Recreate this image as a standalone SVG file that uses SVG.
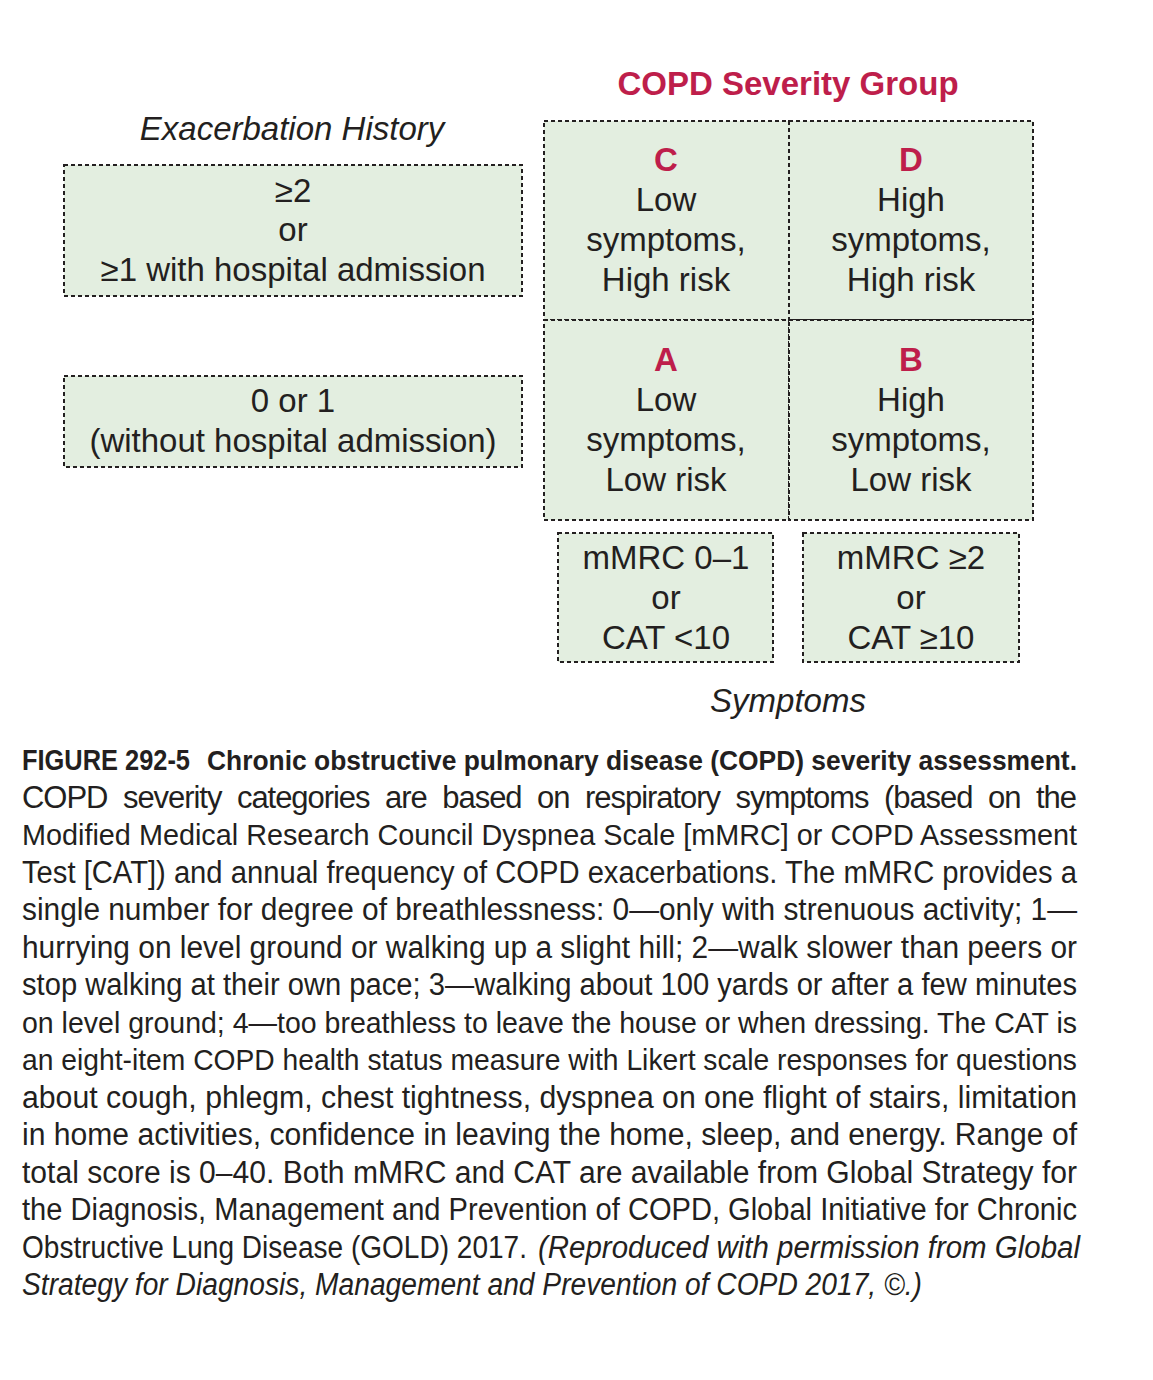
<svg xmlns="http://www.w3.org/2000/svg" width="1153" height="1380" viewBox="0 0 1153 1380">
<style>
.box{fill:#E3EEE0;stroke:#231F20;stroke-width:2;stroke-dasharray:4 3}
.t{font-family:"Liberation Sans",Arial,sans-serif;font-size:33px;fill:#231F20;text-anchor:middle}
.it{font-style:italic}
.red{font-family:"Liberation Sans",Arial,sans-serif;font-weight:bold;fill:#BE1E4B;text-anchor:middle}
.cap{font-family:"Liberation Sans Narrow","Liberation Sans",Arial,sans-serif;font-size:31px;fill:#231F20}
.capb{font-weight:bold}
.sm{font-size:29px}
.xs{font-size:27px}
</style>
<rect width="1153" height="1380" fill="#FFFFFF"/>
<text class="red" x="788" y="95" font-size="33">COPD Severity Group</text>
<text class="t it" x="292" y="140">Exacerbation History</text>
<text class="t it" x="788" y="712">Symptoms</text>

<g id="exac-high">
<rect class="box" x="64" y="165" width="458" height="131"/>
<text class="t" x="293" y="202">≥2</text>
<text class="t" x="293" y="241">or</text>
<text class="t" x="293" y="281">≥1 with hospital admission</text>
</g>
<g id="exac-low">
<rect class="box" x="64" y="376" width="458" height="91"/>
<text class="t" x="293" y="412">0 or 1</text>
<text class="t" x="293" y="452">(without hospital admission)</text>
</g>

<g id="cell-C">
<rect class="box" x="544" y="121" width="245" height="199"/>
<text class="red" x="666" y="171" font-size="33">C</text>
<text class="t" x="666" y="211">Low</text>
<text class="t" x="666" y="251">symptoms,</text>
<text class="t" x="666" y="291">High risk</text>
</g>
<g id="cell-D">
<rect class="box" x="789" y="121" width="244" height="199"/>
<text class="red" x="911" y="171" font-size="33">D</text>
<text class="t" x="911" y="211">High</text>
<text class="t" x="911" y="251">symptoms,</text>
<text class="t" x="911" y="291">High risk</text>
</g>
<g id="cell-A">
<rect class="box" x="544" y="320" width="245" height="200"/>
<text class="red" x="666" y="371" font-size="33">A</text>
<text class="t" x="666" y="411">Low</text>
<text class="t" x="666" y="451">symptoms,</text>
<text class="t" x="666" y="491">Low risk</text>
</g>
<g id="cell-B">
<rect class="box" x="789" y="320" width="244" height="200"/>
<text class="red" x="911" y="371" font-size="33">B</text>
<text class="t" x="911" y="411">High</text>
<text class="t" x="911" y="451">symptoms,</text>
<text class="t" x="911" y="491">Low risk</text>
</g>

<g id="sym-low">
<rect class="box" x="558" y="533" width="215" height="129"/>
<text class="t" x="666" y="569">mMRC 0–1</text>
<text class="t" x="666" y="609">or</text>
<text class="t" x="666" y="649">CAT &lt;10</text>
</g>
<g id="sym-high">
<rect class="box" x="803" y="533" width="216" height="129"/>
<text class="t" x="911" y="569">mMRC ≥2</text>
<text class="t" x="911" y="609">or</text>
<text class="t" x="911" y="649">CAT ≥10</text>
</g>

<g id="connectors"></g>

<g id="caption" class="cap">
<text class="capb sm" x="22" y="770" textLength="168" lengthAdjust="spacingAndGlyphs">FIGURE 292-5</text>
<text class="capb xs" x="207" y="770" textLength="870" lengthAdjust="spacingAndGlyphs">Chronic obstructive pulmonary disease (COPD) severity assessment.</text>
<text x="22" y="808" textLength="1055" lengthAdjust="spacing" word-spacing="8">COPD severity categories are based on respiratory symptoms (based on the</text>
<text class="sm" x="22" y="845" textLength="1055" lengthAdjust="spacingAndGlyphs">Modified Medical Research Council Dyspnea Scale [mMRC] or COPD Assessment</text>
<text x="22" y="883" textLength="1055" lengthAdjust="spacingAndGlyphs">Test [CAT]) and annual frequency of COPD exacerbations. The mMRC provides a</text>
<text x="22" y="920" textLength="1055" lengthAdjust="spacingAndGlyphs">single number for degree of breathlessness: 0—only with strenuous activity; 1—</text>
<text x="22" y="958" textLength="1055" lengthAdjust="spacingAndGlyphs">hurrying on level ground or walking up a slight hill; 2—walk slower than peers or</text>
<text x="22" y="995" textLength="1055" lengthAdjust="spacingAndGlyphs">stop walking at their own pace; 3—walking about 100 yards or after a few minutes</text>
<text class="sm" x="22" y="1033" textLength="1055" lengthAdjust="spacingAndGlyphs">on level ground; 4—too breathless to leave the house or when dressing. The CAT is</text>
<text class="sm" x="22" y="1070" textLength="1055" lengthAdjust="spacingAndGlyphs">an eight-item COPD health status measure with Likert scale responses for questions</text>
<text x="22" y="1108" textLength="1055" lengthAdjust="spacingAndGlyphs">about cough, phlegm, chest tightness, dyspnea on one flight of stairs, limitation</text>
<text x="22" y="1145" textLength="1055" lengthAdjust="spacingAndGlyphs">in home activities, confidence in leaving the home, sleep, and energy. Range of</text>
<text x="22" y="1183" textLength="1055" lengthAdjust="spacingAndGlyphs">total score is 0–40. Both mMRC and CAT are available from Global Strategy for</text>
<text x="22" y="1220" textLength="1055" lengthAdjust="spacingAndGlyphs">the Diagnosis, Management and Prevention of COPD, Global Initiative for Chronic</text>
<text x="22" y="1258" textLength="505" lengthAdjust="spacingAndGlyphs">Obstructive Lung Disease (GOLD) 2017.</text>
<text class="it" x="538" y="1258" textLength="542" lengthAdjust="spacingAndGlyphs">(Reproduced with permission from Global</text>
<text class="it" x="22" y="1295" textLength="900" lengthAdjust="spacingAndGlyphs">Strategy for Diagnosis, Management and Prevention of COPD 2017, ©.)</text>
</g>
</svg>
